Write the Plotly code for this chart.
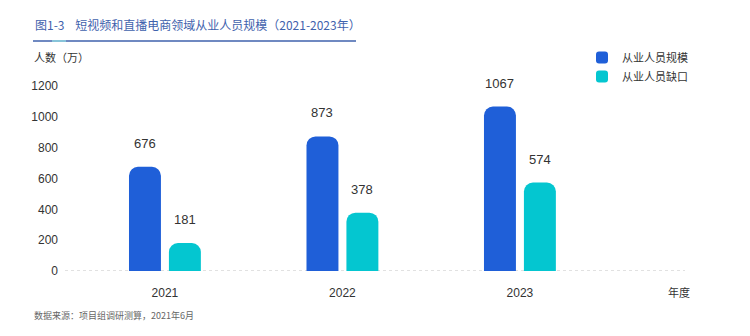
import plotly.graph_objects as go

years = ["2021", "2022", "2023"]
employed = [676, 873, 1067]
shortage = [181, 378, 574]
series_names = ["从业人员规模", "从业人员缺口"]
y_ticks = [0, 200, 400, 600, 800, 1000, 1200]

W, H = 750, 336
L, R, T, B = 65, 65, 86, 65
PW, PH = W - L - R, H - T - B

def px_x(px):
    return (px - L) / PW

def px_y(py):
    return (H - B - py) / PH

FONT = "Liberation Sans, Arial, Noto Sans CJK SC"
CJK = "Noto Sans CJK SC, Liberation Sans"

xs = list(range(len(years)))

fig = go.Figure()
fig.add_trace(go.Bar(x=xs, y=employed, name=series_names[0],
                     marker=dict(color="#1f5fd8", cornerradius=9, line_width=0)))
fig.add_trace(go.Bar(x=xs, y=shortage, name=series_names[1],
                     marker=dict(color="#04c6d0", cornerradius=9, line_width=0)))

# value labels above bars
offsets = [-0.113, 0.113]
for vals, off in zip([employed, shortage], offsets):
    for xi, v in zip(xs, vals):
        fig.add_annotation(x=xi + off, y=v, xref="x", yref="y", text=str(v),
                           showarrow=False, yanchor="bottom", yshift=14,
                           font=dict(family=FONT, size=13, color="#333333"))

# title
fig.add_annotation(x=px_x(33), y=px_y(24), xref="paper", yref="paper",
                   text="图1-3&#160;&#160;&#160;&#160;短视频和直播电商领域从业人员规模（2021-2023年）",
                   showarrow=False, xanchor="left", yanchor="middle",
                   font=dict(family=CJK, size=12, color="#3f62ad"))
# title underline
fig.add_shape(type="line", xref="paper", yref="paper",
              x0=px_x(33), x1=px_x(356), y0=px_y(41), y1=px_y(41),
              line=dict(color="#3f62ad", width=1.5))
fig.add_shape(type="line", xref="paper", yref="paper",
              x0=px_x(52), x1=px_x(66), y0=px_y(41), y1=px_y(41),
              line=dict(color="#8fd8e0", width=1.5))

# y-axis label
fig.add_annotation(x=px_x(32), y=px_y(57), xref="paper", yref="paper",
                   text="人数（万）", showarrow=False, xanchor="left", yanchor="middle",
                   font=dict(family=CJK, size=11, color="#333333"))
# x-axis label
fig.add_annotation(x=px_x(666), y=px_y(292), xref="paper", yref="paper",
                   text="年度", showarrow=False, xanchor="left", yanchor="middle",
                   font=dict(family=CJK, size=11, color="#333333"))
# source
fig.add_annotation(x=px_x(32), y=px_y(315), xref="paper", yref="paper",
                   text="数据来源：项目组调研测算，2021年6月", showarrow=False,
                   xanchor="left", yanchor="middle",
                   font=dict(family=CJK, size=9, color="#666666"))

# dotted baseline
fig.add_shape(type="line", xref="paper", yref="y", x0=0, x1=1, y0=0, y1=0,
              line=dict(color="#d8d8d8", width=1.5, dash="dot"), layer="below")

fig.update_layout(
    width=W, height=H,
    margin=dict(l=L, r=R, t=T, b=B, pad=0),
    paper_bgcolor="white", plot_bgcolor="white",
    barmode="group", bargap=0.55, bargroupgap=0.2,
    showlegend=True,
    legend=dict(x=px_x(582), y=px_y(43), xanchor="left", yanchor="top",
                xref="paper", yref="paper",
                font=dict(family=CJK, size=11, color="#333333"),
                bgcolor="rgba(0,0,0,0)", itemwidth=30, tracegroupgap=0,
                itemclick=False),
    xaxis=dict(range=[-0.563, 2.93], tickmode="array", tickvals=xs, ticktext=years,
               showgrid=False, zeroline=False, showline=False, ticks="",
               ticklabelstandoff=13,
               tickfont=dict(family=FONT, size=12, color="#333333"),
               fixedrange=True),
    yaxis=dict(range=[0, 1200], tickmode="array", tickvals=y_ticks,
               showgrid=False, zeroline=False, showline=False, ticks="",
               ticklabelstandoff=6,
               tickfont=dict(family=FONT, size=12, color="#333333"),
               fixedrange=True),
)

fig.write_html("out.html")
